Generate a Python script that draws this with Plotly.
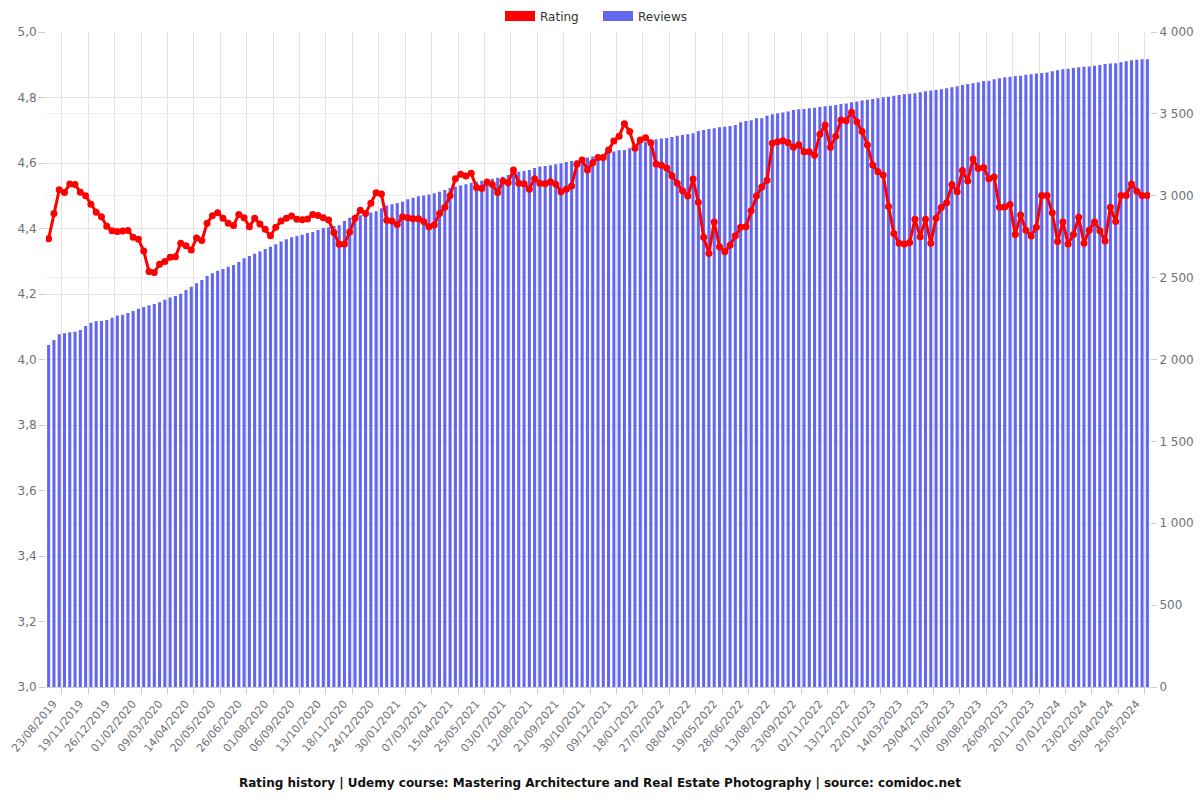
import plotly.graph_objects as go

date_labels = [
    "23/08/2019", "19/11/2019", "26/12/2019", "01/02/2020", "09/03/2020", "14/04/2020",
    "20/05/2020", "26/06/2020", "01/08/2020", "06/09/2020", "13/10/2020", "18/11/2020",
    "24/12/2020", "30/01/2021", "07/03/2021", "15/04/2021", "25/05/2021", "03/07/2021",
    "12/08/2021", "21/09/2021", "30/10/2021", "09/12/2021", "18/01/2022", "27/02/2022",
    "08/04/2022", "19/05/2022", "28/06/2022", "13/08/2022", "23/09/2022", "02/11/2022",
    "13/12/2022", "22/01/2023", "14/03/2023", "29/04/2023", "17/06/2023", "09/08/2023",
    "26/09/2023", "20/11/2023", "07/01/2024", "23/02/2024", "05/04/2024", "25/05/2024",
]

ratings = [
    4.369, 4.446, 4.518, 4.51, 4.536, 4.534, 4.511, 4.50, 4.474, 4.45,
    4.436, 4.407, 4.393, 4.391, 4.392, 4.394, 4.373, 4.367, 4.331, 4.269,
    4.266, 4.291, 4.299, 4.312, 4.314, 4.355, 4.347, 4.334, 4.371, 4.363,
    4.416, 4.439, 4.448, 4.431, 4.416, 4.409, 4.443, 4.433, 4.405, 4.431,
    4.414, 4.398, 4.378, 4.404, 4.423, 4.431, 4.438, 4.428, 4.427, 4.429,
    4.443, 4.440, 4.433,
    4.426, 4.388, 4.352, 4.353, 4.389, 4.431, 4.456, 4.446, 4.477, 4.509,
    4.505, 4.425, 4.423, 4.412, 4.436, 4.433, 4.430, 4.430, 4.421, 4.405,
    4.411, 4.446, 4.465, 4.50, 4.552, 4.566, 4.56, 4.569, 4.525, 4.522,
    4.542, 4.534, 4.51, 4.545, 4.54, 4.579, 4.538, 4.537, 4.52, 4.552,
    4.538, 4.537, 4.543, 4.535, 4.512, 4.52, 4.53, 4.596, 4.609, 4.579,
    4.601, 4.617, 4.617, 4.64,
    4.667, 4.682, 4.72,
    4.696, 4.645, 4.67, 4.677, 4.662, 4.597, 4.593, 4.585, 4.561, 4.538,
    4.515, 4.499, 4.551, 4.48, 4.373, 4.324, 4.42, 4.344, 4.329, 4.349,
    4.378, 4.404, 4.405, 4.454, 4.499, 4.527, 4.547, 4.66, 4.665, 4.668,
    4.662, 4.648, 4.656, 4.634, 4.634, 4.624, 4.688, 4.716, 4.648, 4.682,
    4.731, 4.729, 4.755, 4.726, 4.696, 4.655, 4.594, 4.573, 4.563, 4.467,
    4.385, 4.355, 4.353, 4.357, 4.428, 4.375, 4.428,
    4.355, 4.431, 4.464, 4.479, 4.534, 4.512, 4.577, 4.545, 4.612, 4.583,
    4.586, 4.552, 4.557, 4.465, 4.466, 4.473, 4.382, 4.441, 4.395, 4.377,
    4.404, 4.501, 4.501, 4.448, 4.36, 4.42, 4.353, 4.382, 4.434, 4.355,
    4.395, 4.42, 4.393, 4.362, 4.465, 4.421, 4.501, 4.501, 4.536, 4.514,
    4.501, 4.501,
]

reviews = [
    2089, 2119, 2154, 2160, 2166, 2170, 2180, 2205, 2225, 2233,
    2235, 2241, 2255, 2268, 2274, 2284, 2296, 2310, 2321, 2331,
    2339, 2349, 2365, 2378, 2388, 2402, 2424, 2445, 2465, 2486,
    2510, 2526, 2542, 2553, 2567, 2577, 2595, 2618, 2632, 2646,
    2659, 2675, 2689, 2704, 2720, 2734, 2747, 2754, 2762, 2773,
    2779, 2791, 2803,
    2807, 2815, 2820, 2846, 2866, 2876, 2881, 2889, 2897, 2905,
    2923, 2940, 2948, 2956, 2964, 2978, 2988, 2997, 3001, 3007,
    3015, 3025, 3035, 3047, 3055, 3062, 3070, 3080, 3086, 3092,
    3096, 3104, 3110, 3116, 3127, 3141, 3147, 3151, 3157, 3170,
    3178, 3182, 3186, 3192, 3198, 3206, 3212, 3218, 3225, 3233,
    3239, 3247, 3255, 3263, 3270, 3278,
    3280, 3290, 3310, 3320, 3330, 3339, 3345, 3349, 3353, 3359,
    3367, 3371, 3375, 3381, 3396, 3402, 3408, 3412, 3418, 3422,
    3426, 3432, 3449, 3457, 3461, 3473, 3473, 3489, 3497, 3504,
    3508, 3514, 3524, 3528, 3530, 3534, 3538, 3542, 3546, 3550,
    3554, 3560, 3564, 3571, 3575, 3581, 3587, 3591, 3595, 3601,
    3605, 3611, 3615, 3620, 3623,
    3626, 3632, 3638, 3642, 3646, 3650, 3656, 3662, 3668, 3676,
    3682, 3687, 3693, 3701, 3703, 3711, 3717, 3723, 3727, 3731,
    3733, 3739, 3742, 3746, 3750, 3752, 3760, 3766, 3772, 3776,
    3780, 3784, 3788, 3790, 3794, 3799, 3805, 3807, 3809, 3815,
    3821, 3827, 3831, 3833, 3833,
]

LABEL_EVERY = 5
TITLE = ("Rating history | Udemy course: Mastering Architecture and Real Estate "
         "Photography | source: comidoc.net")

n = len(ratings)
xs = list(range(n))
label_positions = [0.9 + LABEL_EVERY * k for k in range(len(date_labels))]
grid_positions = [2.5 + LABEL_EVERY * k for k in range(len(date_labels))]

FONT = "DejaVu Sans, Verdana, sans-serif"
TICK_COLOR = "#6e7079"
GRID = "#e3e3e3"
RED = "#ff0000"
BLUE = "#6366f0"

fig = go.Figure()

fig.add_trace(go.Bar(
    x=xs, y=reviews, name="Reviews", yaxis="y",
    marker=dict(color=BLUE, line=dict(width=0)),
    legendgroup="reviews", showlegend=False,
    hovertemplate="%{y}<extra>Reviews</extra>",
))

fig.add_trace(go.Scatter(
    x=xs, y=ratings, name="Rating", yaxis="y2", mode="lines+markers",
    line=dict(color=RED, width=3),
    marker=dict(color=RED, size=7),
    legendgroup="rating", showlegend=False,
    hovertemplate="%{y}<extra>Rating</extra>",
))

# legend entries drawn as wide colour bars, as in the reference legend
fig.add_trace(go.Scatter(
    x=[None], y=[None], name="Rating", yaxis="y2", mode="lines",
    line=dict(color=RED, width=14), legendgroup="rating", legendrank=1,
))
fig.add_trace(go.Scatter(
    x=[None], y=[None], name="Reviews", yaxis="y", mode="lines",
    line=dict(color=BLUE, width=12), legendgroup="reviews", legendrank=2,
))

fig.update_layout(
    width=1200, height=800,
    paper_bgcolor="white", plot_bgcolor="white",
    margin=dict(l=46, r=50, t=32, b=113, autoexpand=False),
    separators=", ",
    barmode="overlay",
    bargap=0.42,
    font=dict(family=FONT, size=12, color=TICK_COLOR),
    showlegend=True,
    legend=dict(
        orientation="h", x=0.5, xanchor="center",
        yref="container", y=0.98, yanchor="middle",
        font=dict(family=FONT, size=12, color="#333333"),
        itemwidth=30, tracegroupgap=0,
        entrywidth=53, entrywidthmode="pixels",
    ),
    title=dict(
        text="<b>" + TITLE + "</b>",
        x=0.5, xanchor="center", y=0.021, yanchor="middle",
        font=dict(family=FONT, size=12, color="#111111"),
    ),
    xaxis=dict(
        range=[-0.5, n - 0.5],
        tickmode="array", tickvals=label_positions, ticktext=date_labels,
        tickangle=-50, tickfont=dict(size=11, color=TICK_COLOR),
        ticklabelstandoff=5,
        showgrid=False, ticks="", automargin=False,
        minor=dict(tickmode="array", tickvals=grid_positions, showgrid=True,
                   gridcolor=GRID, gridwidth=1, ticks="outside", ticklen=6,
                   tickcolor="#cccccc"),
        showline=True, linecolor="#cccccc", linewidth=1,
        zeroline=False,
    ),
    yaxis=dict(
        side="right", range=[0, 4000], tickmode="linear", tick0=0, dtick=500,
        separatethousands=True, automargin=False,
        showgrid=True, gridcolor="#efefef", zeroline=False,
        ticks="outside", ticklen=6, tickcolor="#cccccc",
        tickfont=dict(size=12, color=TICK_COLOR),
        showline=False,
    ),
    yaxis2=dict(
        side="left", overlaying="y", range=[3.0, 5.0], tickmode="linear",
        tick0=3.0, dtick=0.2, tickformat=".1f", automargin=False,
        showgrid=True, gridcolor=GRID, zeroline=False,
        ticks="outside", ticklen=6, tickcolor="#cccccc",
        tickfont=dict(size=12, color=TICK_COLOR),
        showline=False,
    ),
)

fig.write_html("out.html", config={"displayModeBar": False},
               post_script="document.body.style.margin='0';")
